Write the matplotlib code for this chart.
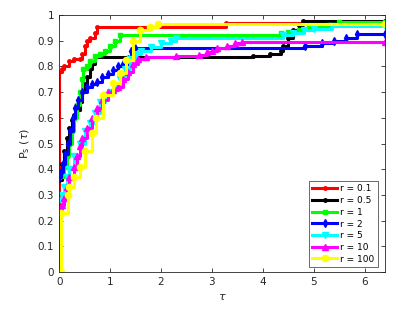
import matplotlib
matplotlib.use("Agg")
import matplotlib.pyplot as plt

labels = ["r = 0.1", "r = 0.5", "r = 1", "r = 2", "r = 5", "r = 10", "r = 100"]

tau_r01 = [0, 0, 0.05, 0.1, 0.2, 0.3, 0.4, 0.45, 0.5, 0.55, 0.6, 0.7, 0.75, 3.27, 6.4]
p_r01 = [0, 0.78, 0.79, 0.80, 0.82, 0.83, 0.83, 0.85, 0.88, 0.90, 0.91, 0.93, 0.955, 0.968, 0.968]

tau_r05 = [0, 0.05, 0.1, 0.15, 0.2, 0.25, 0.3, 0.35, 0.4, 0.45, 0.5, 0.55, 0.6, 0.65, 0.7,
           3.8, 4.13, 4.35, 4.4, 4.5, 4.6, 4.7, 4.78, 6.4]
p_r05 = [0.36, 0.42, 0.47, 0.52, 0.56, 0.59, 0.61, 0.63, 0.66, 0.70, 0.73, 0.76, 0.79, 0.81, 0.835,
         0.84, 0.85, 0.86, 0.88, 0.91, 0.94, 0.96, 0.975, 0.975]

tau_r1 = [0, 0.1, 0.15, 0.2, 0.25, 0.3, 0.35, 0.4, 0.45, 0.47, 0.55, 0.6, 0.7, 0.8, 0.9, 1.0, 1.1, 1.2,
          4.35, 4.5, 4.7, 4.9, 5.1, 5.3, 5.5, 6.4]
p_r1 = [0.37, 0.41, 0.45, 0.50, 0.55, 0.60, 0.65, 0.70, 0.75, 0.79, 0.80, 0.82, 0.84, 0.85, 0.86, 0.88, 0.90, 0.922,
        0.93, 0.935, 0.94, 0.95, 0.955, 0.962, 0.973, 0.973]

tau_r2 = [0, 0.03, 0.08, 0.12, 0.17, 0.22, 0.27, 0.32, 0.38, 0.45, 0.55, 0.65, 0.75, 0.85, 0.95, 1.05,
          1.15, 1.25, 1.35, 1.42, 1.48, 4.82, 5.17, 5.4, 5.64, 5.84, 6.4]
p_r2 = [0.37, 0.39, 0.42, 0.46, 0.50, 0.55, 0.60, 0.64, 0.67, 0.70, 0.72, 0.73, 0.74, 0.76, 0.77, 0.785,
        0.80, 0.81, 0.83, 0.86, 0.872, 0.88, 0.89, 0.90, 0.91, 0.925, 0.925]

tau_r5 = [0, 0.05, 0.1, 0.15, 0.2, 0.3, 0.4, 0.5, 0.6, 0.7, 0.8, 0.9, 1.0, 1.1, 1.2, 1.3, 1.4, 1.5,
          1.6, 1.8, 2.0, 2.2, 2.3, 4.4, 4.6, 4.8, 5.0, 5.35, 6.4]
p_r5 = [0.28, 0.30, 0.33, 0.37, 0.40, 0.45, 0.50, 0.55, 0.58, 0.62, 0.66, 0.69, 0.70, 0.72, 0.75, 0.79, 0.83, 0.85,
        0.86, 0.875, 0.89, 0.90, 0.91, 0.922, 0.93, 0.94, 0.945, 0.958, 0.958]

tau_r10 = [0, 0, 0.05, 0.1, 0.15, 0.2, 0.3, 0.35, 0.4, 0.45, 0.55, 0.65, 0.75, 0.85, 0.95, 1.05, 1.15,
           1.25, 1.35, 1.45, 1.55, 1.7, 2.3, 2.75, 2.9, 3.0, 3.1, 3.3, 3.45, 3.58, 6.4]
p_r10 = [0, 0.24, 0.26, 0.29, 0.33, 0.37, 0.41, 0.45, 0.49, 0.52, 0.56, 0.60, 0.64, 0.67, 0.70, 0.71, 0.72,
         0.75, 0.78, 0.81, 0.83, 0.835, 0.84, 0.845, 0.855, 0.86, 0.87, 0.88, 0.89, 0.895, 0.895]

tau_r100 = [0.04, 0.04, 0.17, 0.2, 0.3, 0.4, 0.5, 0.64, 0.73, 0.86, 1.06, 1.19, 1.32, 1.45, 1.58, 1.78, 1.94, 6.4]
p_r100 = [0, 0.23, 0.30, 0.33, 0.37, 0.41, 0.47, 0.54, 0.60, 0.69, 0.735, 0.775, 0.825, 0.90, 0.94, 0.955, 0.965, 0.965]

series = [(tau_r01, p_r01), (tau_r05, p_r05), (tau_r1, p_r1), (tau_r2, p_r2),
          (tau_r5, p_r5), (tau_r10, p_r10), (tau_r100, p_r100)]
colors = ["#ff0000", "#000000", "#00ff00", "#0000ff", "#00ffff", "#ff00ff", "#ffff00"]
markers = [".", ".", "s", "d", "v", "^", "o"]
msizes = [5, 5, 3.5, 4, 4, 4, 4.5]

fig = plt.figure(figsize=(4.05, 3.12), dpi=100)
ax = fig.add_axes([0.146, 0.128, 0.805, 0.824])

for (t, p), c, m, ms, lab in zip(series, colors, markers, msizes, labels):
    ax.plot(t, p, drawstyle="steps-post", color=c, lw=2.2, marker=m, ms=ms,
            markeredgecolor=c, markerfacecolor=c, label=lab)

ax.set_xlim(0, 6.4)
ax.set_ylim(0, 1)
ax.set_xticks(range(0, 7))
ax.set_yticks([i / 10 for i in range(11)])
ax.set_yticklabels(["0", "0.1", "0.2", "0.3", "0.4", "0.5", "0.6", "0.7", "0.8", "0.9", "1"])
ax.tick_params(direction="in", top=True, right=True, labelsize=7.5, length=3,
               color="0.15", labelcolor="0.15", width=0.6)
for s in ax.spines.values():
    s.set_color("0.15")
    s.set_linewidth(0.6)

ax.set_xlabel(r"$\tau$", fontsize=8, color="0.15")
ax.set_ylabel(r"P$_\mathrm{s}$ ($\tau$)", fontsize=8, color="0.15")

leg = ax.legend(loc="lower right", bbox_to_anchor=(0.985, 0.01), fontsize=6.5, frameon=True,
                fancybox=False, edgecolor="0.15", handlelength=2.8, borderpad=0.35,
                labelspacing=0.3, handletextpad=0.3, borderaxespad=0.3)
leg.get_frame().set_linewidth(0.6)

fig.savefig("out.png", dpi=100)
